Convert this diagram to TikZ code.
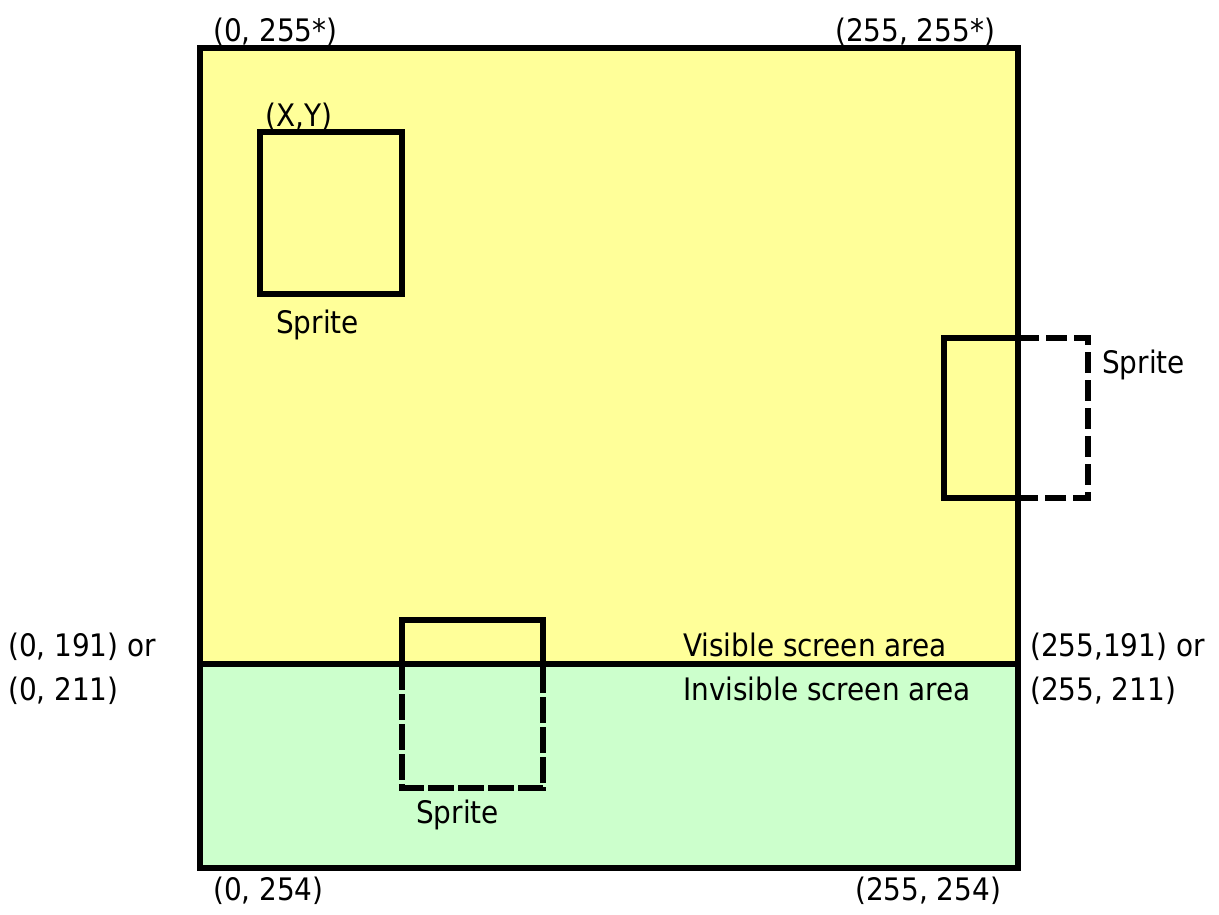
\documentclass[tikz,border=0pt]{standalone}
\usepackage{fontspec}
\setmainfont{DejaVu Sans Condensed}
\begin{document}
\begin{tikzpicture}[x=1pt,y=-1pt,
  lbl/.style={anchor=base west,inner sep=0pt,font=\fontsize{31}{37}\selectfont},
  thick line/.style={line width=6pt,line join=miter,line cap=rect},
  dash a/.style={line width=6pt,dash pattern=on 21pt off 7pt},
  dash b/.style={line width=6pt,dash pattern=on 26pt off 4pt}]
\definecolor{vis}{HTML}{FFFF99}
\definecolor{invis}{HTML}{CCFFCC}
\useasboundingbox (0,0) rectangle (1219,914);
% fills
\fill[vis] (200,48) rectangle (1018,664);
\fill[invis] (200,664) rectangle (1018,868);
% main frame and divider
\draw[thick line] (200,48) rectangle (1018,868);
\draw[line width=6pt] (200,664) -- (1018,664);
% sprite 1
\draw[thick line] (260,132) rectangle (402,294);
% right sprite
\coordinate (rt) at (1018,338);
\coordinate (rb) at (1018,498);
\draw[thick line] (rt) -- (944,338) -- (944,498) -- (rb);
\draw[dash a] (rt) -- (1088,338) -- (1088,498) -- (rb);
% bottom sprite
\coordinate (bl) at (402,664);
\coordinate (br) at (543,664);
\draw[thick line] (bl) -- (402,620) -- (543,620) -- (br);
\draw[dash b] (bl) -- (402,788) -- (543,788) -- (br);
% labels
\node[lbl] (tl) at (213,41) {(0, 255*)};
\node[lbl] (tr) at (835,41) {(255, 255*)};
\node[lbl] (xy) at (265,126) {(X,Y)};
\node[lbl] (s1) at (276,333) {Sprite};
\node[lbl] (s2) at (1102,373) {Sprite};
\node[lbl] (s3) at (416,823) {Sprite};
\node[lbl] (vsa) at (683,656) {Visible screen area};
\node[lbl] (isa) at (683,700) {Invisible screen area};
\node[lbl] (l1) at (8,656) {(0, 191) or};
\node[lbl] (l2) at (8,700) {(0, 211)};
\node[lbl] (r1) at (1030,656) {(255,191) or};
\node[lbl] (r2) at (1030,700) {(255, 211)};
\node[lbl] (bl0) at (213,900) {(0, 254)};
\node[lbl] (br0) at (855,900) {(255, 254)};
\end{tikzpicture}
\end{document}
